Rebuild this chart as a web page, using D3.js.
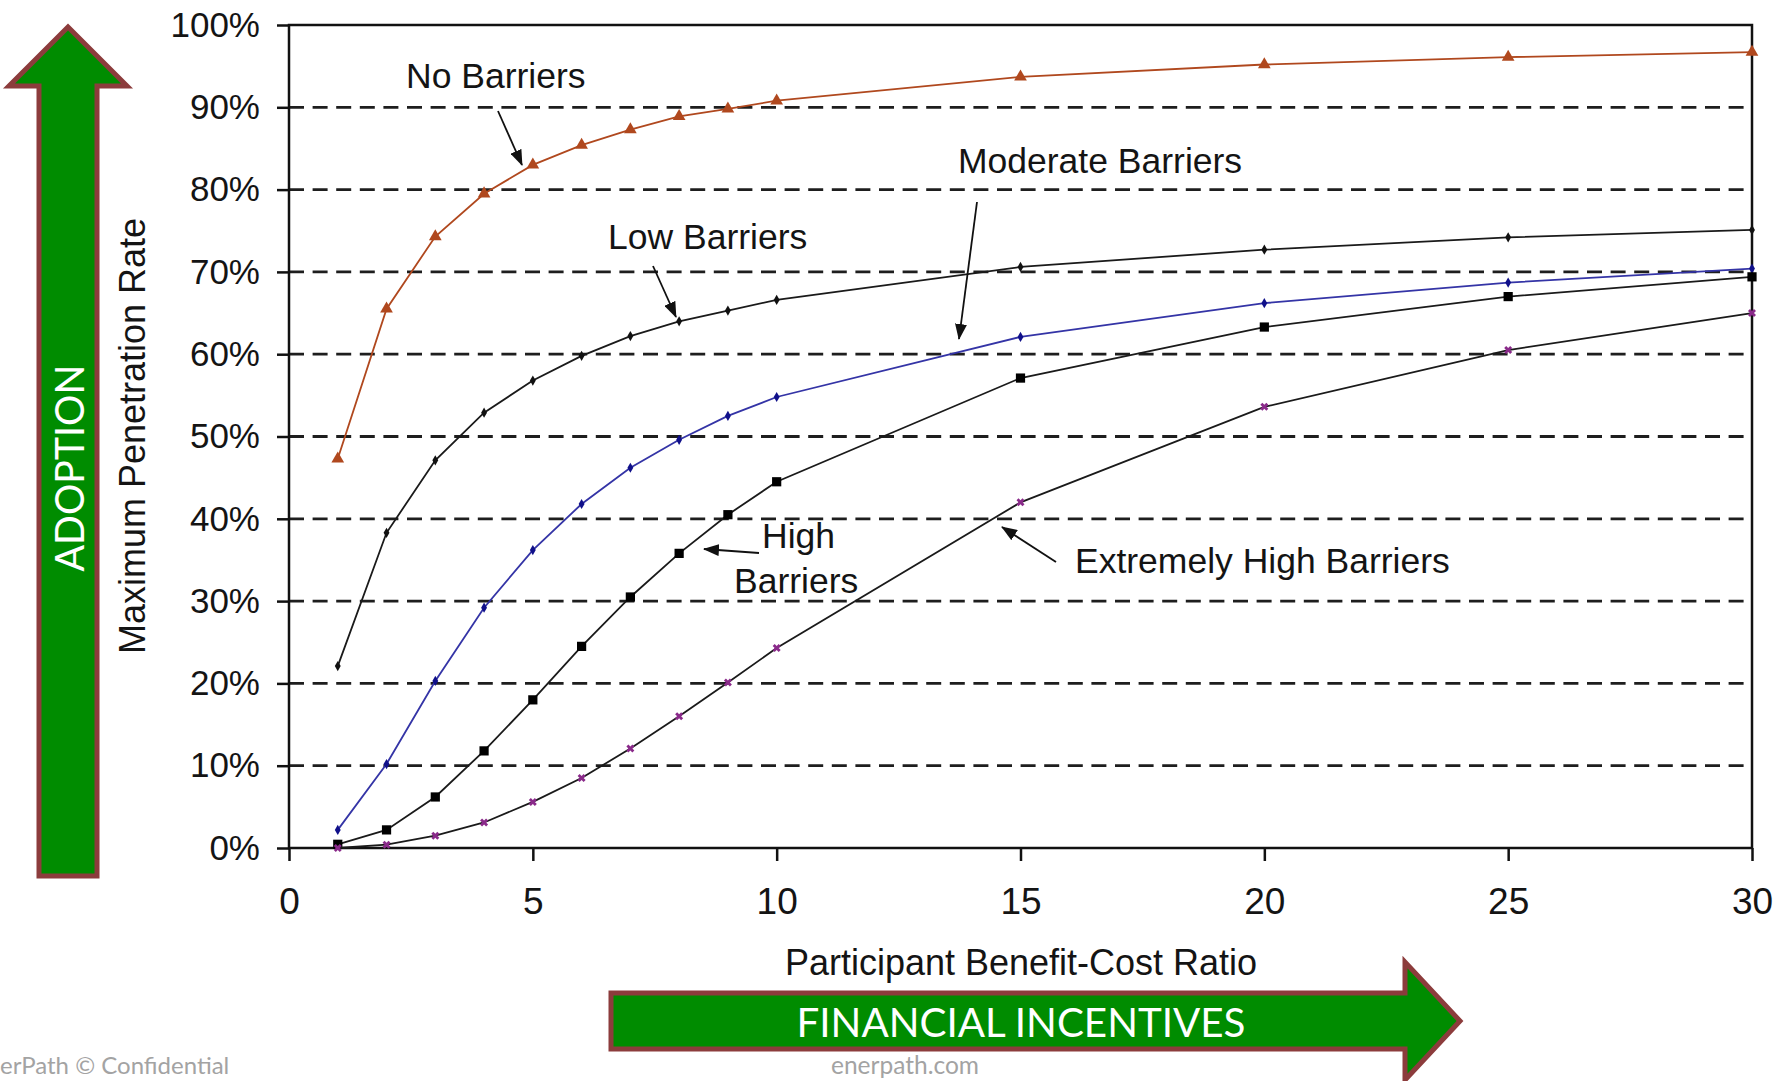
<!DOCTYPE html>
<html>
  <head>
    <meta charset="utf-8" />
    <title>Maximum Penetration Rate</title>
    <script src="https://d3js.org/d3.v7.min.js"></script>
    <style>

      body {
        margin: 0;
        background: #fff;
      }

    </style>
  </head>
  <body>

    <svg id="viz"></svg>

    <script>

      var width = 1775;
      var height = 1081;

      // benefit-cost ratio samples
      var ratios = [1, 2, 3, 4, 5, 6, 7, 8, 9, 10, 15, 20, 25, 30];

      // maximum penetration rate (%) per barrier level
      var noBarriers = [47.3, 65.5, 74.3, 79.5, 83.0, 85.4, 87.3, 88.9, 89.8, 90.8, 93.7, 95.2, 96.1, 96.7];
      var lowBarriers = [22.1, 38.3, 47.1, 52.9, 56.8, 59.8, 62.2, 64.0, 65.3, 66.6, 70.6, 72.7, 74.2, 75.1];
      var moderateBarriers = [2.2, 10.2, 20.3, 29.2, 36.2, 41.8, 46.2, 49.6, 52.5, 54.8, 62.1, 66.2, 68.7, 70.4];
      var highBarriers = [0.45, 2.2, 6.2, 11.8, 18.0, 24.5, 30.5, 35.8, 40.5, 44.5, 57.1, 63.3, 67.0, 69.4];
      var extremeBarriers = [0.0, 0.4, 1.5, 3.1, 5.6, 8.5, 12.1, 16.0, 20.1, 24.3, 42.0, 53.6, 60.5, 65.0];

      var xTicks = [0, 5, 10, 15, 20, 25, 30];
      var yTicks = [0, 10, 20, 30, 40, 50, 60, 70, 80, 90, 100];

      var arial = "'Liberation Sans', Arial, sans-serif";
      var calibri = "Lato, 'Open Sans', sans-serif";
      var ink = "#141414";

      var svg = d3.select("#viz")
        .attr("width", width)
        .attr("height", height);

      var x = d3.scaleLinear().domain([0, 30]).range([289, 1752]);
      var y = d3.scaleLinear().domain([0, 100]).range([848, 25]);

      // dashed gridlines
      svg.append("g")
        .selectAll("line")
        .data(yTicks.filter(function(d) { return d > 0 && d < 100; }))
        .enter().append("line")
        .attr("x1", x(0))
        .attr("x2", x(30))
        .attr("y1", function(d) { return y(d); })
        .attr("y2", function(d) { return y(d); })
        .attr("stroke", "#1e1e1e")
        .attr("stroke-width", 2.8)
        .attr("stroke-dasharray", "15,8.6");

      // frame
      svg.append("rect")
        .attr("x", x(0))
        .attr("y", y(100))
        .attr("width", x(30) - x(0))
        .attr("height", y(0) - y(100))
        .attr("fill", "none")
        .attr("stroke", "#111")
        .attr("stroke-width", 2.5);

      var yAxis = svg.append("g")
        .attr("transform", "translate(" + x(0) + ",0)")
        .call(d3.axisLeft(y)
          .tickValues(yTicks)
          .tickSize(12)
          .tickPadding(17)
          .tickFormat(function(d) { return d + "%"; }));

      var xAxis = svg.append("g")
        .attr("transform", "translate(0," + y(0) + ")")
        .call(d3.axisBottom(x)
          .tickValues(xTicks)
          .tickSize(13)
          .tickPadding(27));

      [yAxis, xAxis].forEach(function(ax) {
        ax.select(".domain").remove();
        ax.selectAll(".tick line").attr("stroke", "#111").attr("stroke-width", 2.5);
        ax.selectAll(".tick text")
          .style("font-family", arial)
          .style("fill", ink);
      });
      yAxis.selectAll(".tick text").style("font-size", "35px");
      xAxis.selectAll(".tick text").style("font-size", "37px");

      // axis titles
      svg.append("text")
        .attr("x", 1021)
        .attr("y", 975)
        .attr("text-anchor", "middle")
        .style("font-family", arial)
        .style("font-size", "36px")
        .style("fill", ink)
        .text("Participant Benefit-Cost Ratio");

      svg.append("text")
        .attr("transform", "translate(145,436) rotate(-90)")
        .attr("text-anchor", "middle")
        .style("font-family", arial)
        .style("font-size", "36px")
        .style("fill", ink)
        .text("Maximum Penetration Rate");

      // curves
      var series = [
        {values: noBarriers, line: "#b0481e", mark: "#b0481e", symbol: d3.symbolTriangle, size: 70, rot: 0},
        {values: lowBarriers, line: "#1a1a1a", mark: "#111", symbol: d3.symbolDiamond, size: 30, rot: 0},
        {values: moderateBarriers, line: "#3434a6", mark: "#10108a", symbol: d3.symbolDiamond, size: 30, rot: 0},
        {values: highBarriers, line: "#1a1a1a", mark: "#000", symbol: d3.symbolSquare, size: 85, rot: 0},
        {values: extremeBarriers, line: "#1a1a1a", mark: "#8a2a8a", symbol: d3.symbolCross, size: 40, rot: 45}
      ];

      var line = d3.line()
        .x(function(d) { return x(d[0]); })
        .y(function(d) { return y(d[1]); });

      series.forEach(function(s) {
        var pts = ratios.map(function(r, i) { return [r, s.values[i]]; });

        svg.append("path")
          .datum(pts)
          .attr("d", line)
          .attr("fill", "none")
          .attr("stroke", s.line)
          .attr("stroke-width", 1.8);

        svg.append("g")
          .selectAll("path")
          .data(pts)
          .enter().append("path")
          .attr("d", d3.symbol().type(s.symbol).size(s.size))
          .attr("fill", s.mark)
          .attr("transform", function(d) {
            return "translate(" + x(d[0]) + "," + y(d[1]) + ") rotate(" + s.rot + ")";
          });
      });

      // annotations
      svg.append("defs").append("marker")
        .attr("id", "head")
        .attr("markerUnits", "userSpaceOnUse")
        .attr("viewBox", "0 0 16 12")
        .attr("refX", 15)
        .attr("refY", 6)
        .attr("markerWidth", 16)
        .attr("markerHeight", 12)
        .attr("orient", "auto")
        .append("path")
        .attr("d", "M0,0L16,6L0,12Z")
        .attr("fill", "#111");

      var labels = [
        {text: "No Barriers", x: 406, y: 88},
        {text: "Low Barriers", x: 608, y: 249},
        {text: "Moderate Barriers", x: 958, y: 173},
        {text: "High", x: 762, y: 548},
        {text: "Barriers", x: 734, y: 593},
        {text: "Extremely High Barriers", x: 1075, y: 573}
      ];

      svg.append("g")
        .selectAll("text")
        .data(labels)
        .enter().append("text")
        .attr("x", function(d) { return d.x; })
        .attr("y", function(d) { return d.y; })
        .style("font-family", arial)
        .style("font-size", "35.5px")
        .style("fill", ink)
        .text(function(d) { return d.text; });

      var pointers = [
        [498, 111, 522, 165],
        [653, 266, 676, 317],
        [977, 202, 959, 339],
        [759, 553, 704, 549],
        [1056, 562, 1002, 527]
      ];

      svg.append("g")
        .selectAll("line")
        .data(pointers)
        .enter().append("line")
        .attr("x1", function(d) { return d[0]; })
        .attr("y1", function(d) { return d[1]; })
        .attr("x2", function(d) { return d[2]; })
        .attr("y2", function(d) { return d[3]; })
        .attr("stroke", "#111")
        .attr("stroke-width", 1.8)
        .attr("marker-end", "url(#head)");

      // green arrows
      var green = "#008c00";
      var rim = "#8c3c3c";

      var upArrow = [[68, 27], [127, 86], [97, 86], [97, 876], [39, 876], [39, 86], [9, 86]];
      var rightArrow = [[611, 993], [1405, 993], [1405, 962], [1460, 1021], [1405, 1080], [1405, 1049], [611, 1049]];

      [upArrow, rightArrow].forEach(function(pts) {
        svg.append("path")
          .attr("d", "M" + pts.join("L") + "Z")
          .attr("fill", green)
          .attr("stroke", rim)
          .attr("stroke-width", 5)
          .attr("stroke-linejoin", "miter");
      });

      svg.append("text")
        .attr("transform", "translate(84,468) rotate(-90)")
        .attr("text-anchor", "middle")
        .attr("textLength", 207)
        .attr("lengthAdjust", "spacingAndGlyphs")
        .style("font-family", calibri)
        .style("font-size", "41px")
        .style("fill", "#fff")
        .text("ADOPTION");

      svg.append("text")
        .attr("x", 1021)
        .attr("y", 1037)
        .attr("text-anchor", "middle")
        .attr("textLength", 449)
        .attr("lengthAdjust", "spacingAndGlyphs")
        .style("font-family", calibri)
        .style("font-size", "41px")
        .style("fill", "#fff")
        .text("FINANCIAL INCENTIVES");

      // footer
      svg.append("text")
        .attr("x", 0)
        .attr("y", 1074)
        .style("font-family", calibri)
        .style("font-size", "24px")
        .style("fill", "#a3a3a3")
        .text("erPath © Confidential");

      svg.append("text")
        .attr("x", 831)
        .attr("y", 1074)
        .style("font-family", calibri)
        .style("font-size", "24.5px")
        .style("fill", "#a3a3a3")
        .text("enerpath.com");

    </script>
  </body>
</html>
